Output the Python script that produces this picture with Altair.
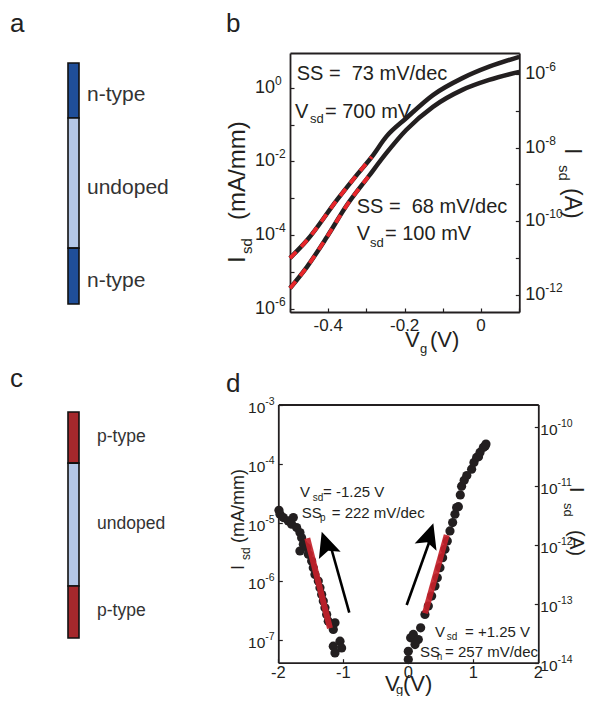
import altair as alt
import pandas as pd

FONT = "Liberation Sans"
INK = "#231f20"
W, H = 579, 688
NB = "\u00a0"

# ---------------- data ----------------
# panel a / c : doping profile along the wire (0 = top, 1 = bottom)
a_labels = ["n-type", "undoped", "n-type"]
a_bounds = [0.0, 0.228, 0.768, 1.0]
a_fill = ["#1f4e99", "#b4c7e7", "#1f4e99"]

c_labels = ["p-type", "undoped", "p-type"]
c_bounds = [0.0, 0.226, 0.770, 1.0]
c_fill = ["#a5282c", "#b4c7e7", "#a5282c"]

# panel b : Isd (mA/mm) vs Vg, log10 values
b_vg_700 = [-0.5, -0.455, -0.377, -0.325, -0.286, -0.248, -0.196, -0.126, -0.049, 0.021, 0.1]
b_log_700 = [-4.63, -4.14, -3.05, -2.37, -1.88, -1.33, -0.83, -0.20, 0.26, 0.57, 0.84]
b_vg_100 = [-0.5, -0.455, -0.403, -0.351, -0.295, -0.248, -0.196, -0.126, -0.049, 0.021, 0.1]
b_log_100 = [-5.45, -4.86, -4.05, -3.19, -2.42, -1.78, -1.15, -0.52, -0.06, 0.21, 0.43]
b_fit_n = 5  # first points of each curve carry the SS fit (red dashes)

# panel d : Isd (mA/mm) vs Vg, log10 values
d_vg_p = [-1.990, -1.974, -1.923, -1.846, -1.769, -1.795, -1.718, -1.667, -1.641, -1.615,
          -1.667, -1.564, -1.538, -1.487, -1.462, -1.436, -1.385, -1.359, -1.333, -1.308,
          -1.282, -1.256, -1.231, -1.179, -1.128, -1.154, -1.154, -1.128, -1.051, -1.026]
d_log_p = [-4.790, -4.858, -4.915, -4.972, -4.915, -5.028, -5.085, -5.170, -5.256, -5.369,
           -5.483, -5.426, -5.540, -5.653, -5.767, -5.881, -5.994, -6.108, -6.222, -6.335,
           -6.449, -6.563, -6.676, -6.733, -6.705, -6.818, -7.102, -7.216, -7.017, -7.131]
d_vg_n = [0.000, 0.000, 0.036, 0.077, 0.154, 0.103, 0.190, 0.256, 0.308, 0.359, 0.410,
          0.446, 0.487, 0.528, 0.564, 0.600, 0.641, 0.682, 0.718, 0.744, 0.770, 0.800,
          0.820, 0.860, 0.900, 0.974, 1.010, 1.051, 1.080, 1.103, 1.154, 1.180, 1.195]
d_log_n = [-7.330, -7.188, -6.960, -6.903, -6.989, -7.074, -6.790, -6.563, -6.420, -6.250, -6.080,
           -5.938, -5.767, -5.597, -5.455, -5.313, -5.142, -5.000, -4.858, -4.744, -4.730, -4.530,
           -4.380, -4.280, -4.200, -4.091, -3.977, -3.892, -3.880, -3.807, -3.722, -3.700, -3.665]
d_fit_p_vg = [-1.554, -1.205]
d_fit_p_log = [-5.267, -6.798]
d_fit_n_vg = [0.257, 0.591]
d_fit_n_log = [-6.543, -5.211]
# sweep arrows: tail, shaft end, tip
d_arrow_p_vg = [-0.908, -1.178, -1.332]
d_arrow_p_log = [-6.532, -5.466, -5.155]
d_arrow_n_vg = [-0.025, 0.324, 0.385]
d_arrow_n_log = [-6.401, -5.325, -5.012]

# tick labels
b_xticks = [-0.4, -0.2, 0.0]
b_xtick_text = ["-0.4", "-0.2", "0"]
b_left_exp = [0, -2, -4, -6]
b_right_exp = [-6, -8, -10, -12]
d_xticks = [-2, -1, 0, 1, 2]
d_left_exp = [-3, -4, -5, -6, -7]
d_right_exp = [-10, -11, -12, -13, -14]

# ---------------- scales (explicit pixel ranges = panel layout) ----------------
def lin(domain, rng):
    return alt.Scale(domain=domain, range=rng, nice=False, zero=False)

def logs(lo, hi, rng):
    return alt.Scale(type="log", domain=[10 ** lo, 10 ** hi], range=rng, nice=False)

aX = lin([0, 1], [60, 71]); aY = lin([0, 1], [55, 296])
cX = lin([0, 1], [60, 71]); cY = lin([0, 1], [404, 630])
B_LO, B_HI, B_OFF = -6.095, 0.943, -6.37
bX = lin([-0.5, 0.1], [282, 511.3]); bY = logs(B_LO, B_HI, [304, 45])
bYR = logs(B_LO + B_OFF, B_HI + B_OFF, [304, 45])
D_LO, D_HI, D_OFF = -7.383, -2.991, -6.62
dX = lin([-2, 2], [270.3, 530.3]); dY = logs(D_LO, D_HI, [654.7, 396.5])
dYR = logs(D_LO + D_OFF, D_HI + D_OFF, [654.7, 396.5])
PX = lin([0, 595], [-8, 587]); PY = lin([0, 704], [-8, 696])

def ax(orient, offset, values=None, ticks=True, size=4):
    kw = dict(orient=orient, offset=offset, labels=False, title=None, grid=False,
              domainColor=INK, domainWidth=1.8, ticks=ticks, tickColor=INK,
              tickWidth=1.2, tickSize=size)
    if values is not None:
        kw["values"] = values
    return alt.Axis(**kw)

layers = []

# ---------------- panels a and c ----------------
def doping(labels, bounds, fills, sx, sy, ldx, ldy, fsize):
    df = pd.DataFrame({"label": labels, "y0": bounds[:-1], "y1": bounds[1:], "fill": fills})
    df["ym"] = (df["y0"] + df["y1"]) / 2
    bars = alt.Chart(df).mark_rect(stroke="#111111", strokeWidth=1.6).encode(
        x=alt.XDatum(0, scale=sx, axis=None), x2=alt.X2Datum(1),
        y=alt.Y("y0:Q", scale=sy, axis=None), y2="y1:Q",
        color=alt.Color("fill:N", scale=None))
    txt = alt.Chart(df).mark_text(align="left", baseline="middle", dx=ldx, dy=ldy,
                                  fontSize=fsize, font=FONT, color="#333333").encode(
        x=alt.XDatum(1, scale=sx, axis=None), y=alt.Y("ym:Q", scale=sy, axis=None),
        text="label:N")
    return [bars, txt]

layers += doping(a_labels, a_bounds, a_fill, aX, aY, 8, 5, 21)
layers += doping(c_labels, c_bounds, c_fill, cX, cY, 18, -1, 17.5)

# ---------------- panel b ----------------
b_df = pd.concat([
    pd.DataFrame({"vg": b_vg_700, "i": [10 ** v for v in b_log_700], "s": "700"}),
    pd.DataFrame({"vg": b_vg_100, "i": [10 ** v for v in b_log_100], "s": "100"}),
])
b_fit = pd.concat([
    pd.DataFrame({"vg": b_vg_700[:b_fit_n], "i": [10 ** v for v in b_log_700[:b_fit_n]], "s": "700"}),
    pd.DataFrame({"vg": b_vg_100[:b_fit_n], "i": [10 ** v for v in b_log_100[:b_fit_n]], "s": "100"}),
])
layers.append(alt.Chart(b_df).mark_line(color=INK, strokeWidth=4.5, interpolate="monotone").encode(
    x=alt.X("vg:Q", scale=bX, axis=ax("bottom", -(H - 45), ticks=False)),
    y=alt.Y("i:Q", scale=bY, axis=None), detail="s:N"))
layers.append(alt.Chart(b_fit).mark_line(color="#e8262b", strokeWidth=3.8, strokeDash=[9, 7],
                                         interpolate="monotone").encode(
    x=alt.X("vg:Q", scale=bX, axis=None), y=alt.Y("i:Q", scale=bY, axis=None), detail="s:N"))

def ylabels(exps, sx, xdat, sy, axis, dx, fs, fse, dy0, dye, align_right):
    df = pd.DataFrame({"v": [10 ** e for e in exps], "e": [str(e) for e in exps]})
    base = alt.Chart(df)
    if align_right:
        tens = base.mark_text(text="10", align="right", baseline="middle", dx=dx, dy=dy0,
                              fontSize=fs, font=FONT, color=INK)
        ex = base.mark_text(align="left", baseline="middle", dx=dx, dy=dy0 + dye,
                            fontSize=fse, font=FONT, color=INK)
    else:
        tens = base.mark_text(text="10", align="left", baseline="middle", dx=dx, dy=dy0,
                              fontSize=fs, font=FONT, color=INK)
        ex = base.mark_text(align="left", baseline="middle", dx=dx + fs * 1.112, dy=dy0 + dye,
                            fontSize=fse, font=FONT, color=INK)
    l1 = tens.encode(x=alt.XDatum(xdat, scale=sx, axis=None), y=alt.Y("v:Q", scale=sy, axis=axis))
    l2 = ex.encode(x=alt.XDatum(xdat, scale=sx, axis=None), y=alt.Y("v:Q", scale=sy, axis=None),
                   text="e:N")
    return [l1, l2]

layers += ylabels(b_left_exp, bX, -0.5, bY,
                  ax("right", 282 - W, [10.0 ** k for k in range(-6, 1)]), -15, 18, 12, 0, -7, True)
layers += ylabels(b_right_exp, bX, 0.1, bYR,
                  ax("left", -511.3, [10.0 ** k for k in range(-12, -5)]), 6, 18, 12, 0, -7, False)

bx_df = pd.DataFrame({"v": b_xticks, "t": b_xtick_text})
layers.append(alt.Chart(bx_df).mark_text(align="center", baseline="middle", dy=14, fontSize=17,
                                         font=FONT, color=INK).encode(
    x=alt.X("v:Q", scale=bX, axis=ax("top", -304, [-0.5, -0.4, -0.3, -0.2, -0.1, 0.0, 0.1])),
    y=alt.YDatum(10 ** B_LO, scale=bY, axis=None), text="t:N"))

# in-plot annotations of panel b (data coordinates)
b_main = pd.DataFrame({
    "x": [-0.4825, -0.4869, -0.4084, -0.3255, -0.3255, -0.2514],
    "y": [10 ** v for v in [0.209, -0.823, -0.823, -3.405, -4.139, -4.139]],
    "t": ["SS =" + NB + " 73 mV/dec", "V", "= 700 mV", "SS =" + NB + " 68 mV/dec", "V", "= 100 mV"]})
b_sub = pd.DataFrame({"x": [-0.4477, -0.2907], "y": [10 ** -0.959, 10 ** -4.329], "t": ["sd", "sd"]})
for df, fs in ((b_main, 20), (b_sub, 13)):
    layers.append(alt.Chart(df).mark_text(align="left", baseline="alphabetic", fontSize=fs,
                                          font=FONT, color=INK).encode(
        x=alt.X("x:Q", scale=bX, axis=None), y=alt.Y("y:Q", scale=bY, axis=None), text="t:N"))

# ---------------- panel d ----------------
d_pts = pd.concat([
    pd.DataFrame({"vg": d_vg_p, "i": [10 ** v for v in d_log_p]}),
    pd.DataFrame({"vg": d_vg_n, "i": [10 ** v for v in d_log_n]}),
])
layers.append(alt.Chart(d_pts).mark_circle(size=85, color=INK, opacity=1).encode(
    x=alt.X("vg:Q", scale=dX, axis=ax("bottom", -(H - 396.5), ticks=False)),
    y=alt.Y("i:Q", scale=dY, axis=None)))
d_fit = pd.concat([
    pd.DataFrame({"vg": d_fit_p_vg, "i": [10 ** v for v in d_fit_p_log], "s": "p"}),
    pd.DataFrame({"vg": d_fit_n_vg, "i": [10 ** v for v in d_fit_n_log], "s": "n"}),
])
layers.append(alt.Chart(d_fit).mark_line(color="#c4212a", strokeWidth=6, opacity=0.92).encode(
    x=alt.X("vg:Q", scale=dX, axis=None), y=alt.Y("i:Q", scale=dY, axis=None), detail="s:N"))

arr = pd.concat([
    pd.DataFrame({"vg": d_arrow_p_vg[:2], "i": [10 ** v for v in d_arrow_p_log[:2]], "s": "p"}),
    pd.DataFrame({"vg": d_arrow_n_vg[:2], "i": [10 ** v for v in d_arrow_n_log[:2]], "s": "n"}),
])
layers.append(alt.Chart(arr).mark_line(color="black", strokeWidth=2.6).encode(
    x=alt.X("vg:Q", scale=dX, axis=None), y=alt.Y("i:Q", scale=dY, axis=None), detail="s:N"))
HEAD = "M0,0 L-0.46,1 L0,0.8 L0.46,1 Z"
for vgs, lgs, ang in ((d_arrow_p_vg, d_arrow_p_log, 341.2), (d_arrow_n_vg, d_arrow_n_log, 18.0)):
    hd = pd.DataFrame({"vg": [vgs[2]], "i": [10 ** lgs[2]]})
    layers.append(alt.Chart(hd).mark_point(shape=HEAD, size=2500, filled=True, color="black",
                                           opacity=1, angle=ang, strokeWidth=0).encode(
        x=alt.X("vg:Q", scale=dX, axis=None), y=alt.Y("i:Q", scale=dY, axis=None)))

layers += ylabels(d_left_exp, dX, -2, dY,
                  ax("right", 270.3 - W, [10.0 ** k for k in range(-7, -2)]), -13, 15.5, 10.5, 3, -6, True)
layers += ylabels(d_right_exp, dX, 2, dYR,
                  ax("left", -530.3, [10.0 ** k for k in range(-14, -9)]), 2, 15.5, 10.5, 3, -6, False)

dx_df = pd.DataFrame({"v": d_xticks, "t": [str(v) for v in d_xticks]})
layers.append(alt.Chart(dx_df).mark_text(align="center", baseline="middle", dy=10, fontSize=16.5,
                                         font=FONT, color=INK).encode(
    x=alt.X("v:Q", scale=dX, axis=ax("top", -654.7, d_xticks)),
    y=alt.YDatum(10 ** D_LO, scale=dY, axis=None), text="t:N"))

d_main = pd.DataFrame({
    "x": [-1.666, -1.312, -1.640, -1.178, 0.411, 0.872, 0.180, 0.565],
    "y": [10 ** v for v in [-4.559, -4.559, -4.922, -4.922, -6.940, -6.940, -7.281, -7.281]],
    "t": ["V", "= -1.25 V", "SS", "= 222 mV/dec", "V", "= +1.25 V", "SS", "= 257 mV/dec"]})
d_sub = pd.DataFrame({
    "x": [-1.471, -1.358, 0.591, 0.437],
    "y": [10 ** v for v in [-4.633, -4.973, -6.997, -7.337]],
    "t": ["sd", "p", "sd", "n"]})
for df, fs in ((d_main, 15), (d_sub, 10)):
    layers.append(alt.Chart(df).mark_text(align="left", baseline="alphabetic", fontSize=fs,
                                          font=FONT, color=INK).encode(
        x=alt.X("x:Q", scale=dX, axis=None), y=alt.Y("y:Q", scale=dY, axis=None), text="t:N"))

# ---------------- titles & panel letters (page positions) ----------------
def page_text(px, py, text, size, angle=0, color=INK, align="left"):
    df = pd.DataFrame({"px": px, "py": py, "t": text})
    kw = dict(align=align, baseline="alphabetic", fontSize=size, font=FONT, color=color)
    if angle:
        kw["angle"] = angle
    return alt.Chart(df).mark_text(**kw).encode(
        x=alt.X("px:Q", scale=PX, axis=None), y=alt.Y("py:Q", scale=PY, axis=None), text="t:N")

layers.append(page_text([10, 226, 10, 226], [32, 32, 387, 392], ["a", "b", "c", "d"], 26,
                        color="#222222"))
# x titles
layers.append(page_text([405, 430, 385, 403], [347, 347, 691, 691], ["V", "(V)", "V", "(V)"], 22))
layers.append(page_text([420, 396], [353, 694], ["g", "g"], 13))
# left titles (reading upwards)
layers.append(page_text([245, 245], [263, 220], ["I", "(mA/mm)"], 24, angle=270))
layers.append(page_text([252], [254], ["sd"], 15, angle=270))
layers.append(page_text([244, 244], [570, 543], ["I", "(mA/mm)"], 18, angle=270))
layers.append(page_text([250], [560], ["sd"], 12, angle=270))
# right titles (reading downwards)
layers.append(page_text([565, 565], [148, 188], ["I", "(A)"], 23, angle=90))
layers.append(page_text([559], [165], ["sd"], 15, angle=90))
layers.append(page_text([569.5, 569.5], [487, 530], ["I", "(A)"], 19.5, angle=90))
layers.append(page_text([564], [503], ["sd"], 13, angle=90))

chart = alt.layer(*layers).resolve_scale(x="independent", y="independent").resolve_axis(
    x="independent", y="independent").properties(
    width=W, height=H, autosize=alt.AutoSizeParams(type="none"), padding=0
).configure_view(stroke=None)

chart.save("out.html", embed_options={"renderer": "svg", "actions": False})
